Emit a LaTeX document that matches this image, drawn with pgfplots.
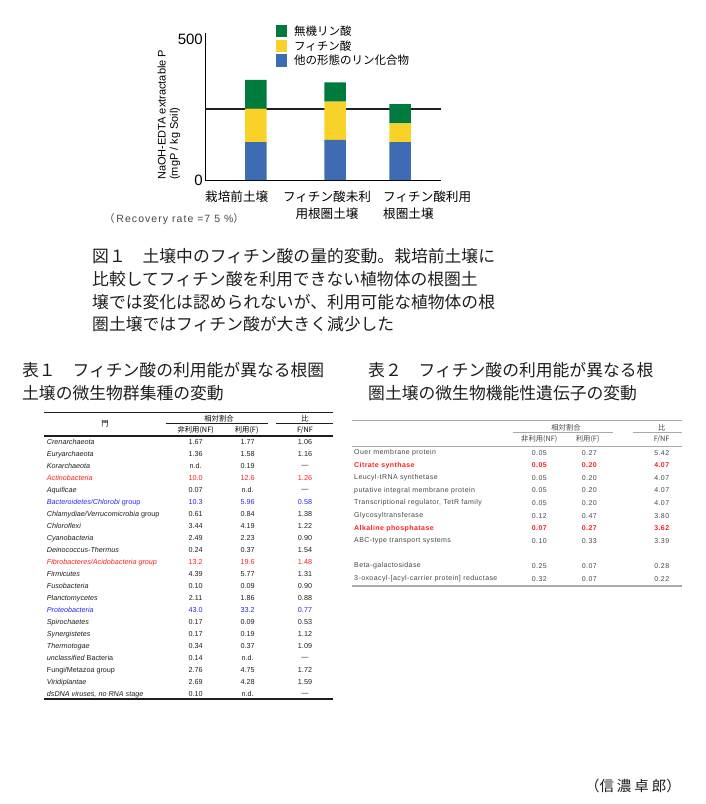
\documentclass[border=0pt]{standalone}
\usepackage{pgfplots}
\pgfplotsset{compat=1.18}
\usepackage{fontspec}
\setmainfont{Liberation Sans}
\newfontfamily\jp{Noto Sans CJK JP}
\newfontfamily\tb[LetterSpace=6]{Liberation Sans}
\newfontfamily\ls[LetterSpace=10]{Liberation Sans}
\definecolor{gP}{RGB}{0,122,61}
\definecolor{yP}{RGB}{248,210,41}
\definecolor{bP}{RGB}{61,108,178}
\definecolor{tred}{RGB}{255,30,30}
\definecolor{tblue}{RGB}{40,40,235}
\definecolor{tdark}{RGB}{30,30,30}
\definecolor{tgray}{RGB}{70,70,70}
\definecolor{rgray}{RGB}{170,170,170}
\tikzset{
 t1/.style={inner sep=0,font=\fontsize{7.2}{8}\selectfont},
 t2n/.style={inner sep=0,text=tgray,font=\tb\fontsize{7}{8}\selectfont},
 t2r/.style={inner sep=0,text=tred,font=\tb\bfseries\fontsize{7}{8}\selectfont},
}
\newcommand\tA[6]{%
 \node[t1,anchor=west,text=#6] at (46.7,#1) {#2};
 \node[t1,text=#6] at (195.7,#1) {#3};
 \node[t1,text=#6] at (247.7,#1) {#4};
 \node[t1,text=#6] at (305,#1) {#5};}
\newcommand\tB[6]{%
 \node[#6,anchor=west] at (354,#1) {#2};
 \node[#6] at (539.3,#1) {#3};
 \node[#6] at (589.3,#1) {#4};
 \node[#6] at (661.7,#1) {#5};}
\begin{document}
\begin{tikzpicture}
\begin{scope}[x=1pt,y=-1pt]
\useasboundingbox (0,0) rectangle (705,804);
% y label
\node[rotate=90,anchor=west,inner sep=0,font=\fontsize{11}{11}\selectfont] at (161.7,180) {NaOH-EDTA extractable P};
\node[rotate=90,anchor=west,inner sep=0,font=\fontsize{11}{11}\selectfont] at (175,180) {(mgP / kg Soil)};
% legend
\fill[gP] (276,25) rectangle (287,37.3);
\fill[yP] (276,40) rectangle (287,52.3);
\fill[bP] (276,54) rectangle (287,66.7);
\begin{scope}[every node/.style={anchor=west,inner sep=0,font=\jp\fontsize{11.5}{12}\selectfont}]
\node at (294,31) {無機リン酸};
\node at (294,46) {フィチン酸};
\node at (294,60.5) {他の形態のリン化合物};
\end{scope}
% category labels
\begin{scope}[every node/.style={inner sep=0,font=\jp\fontsize{12.6}{13}\selectfont}]
\node[anchor=west] at (205,196.7) {栽培前土壌};
\node at (327,196.7) {フィチン酸未利};
\node at (327,214) {用根圏土壌};
\node[anchor=west] at (383,196.7) {フィチン酸利用};
\node[anchor=west] at (383,214) {根圏土壌};
\end{scope}
\node[anchor=west,inner sep=0,text=tgray,font=\fontsize{10.5}{11}\selectfont] at (104,219) {{\jp （}\,{\ls Recovery rate =7 5 \%}{\jp ）}};
% caption
\begin{scope}[every node/.style={anchor=west,inner sep=0,text=tdark,font=\jp\fontsize{16.8}{17}\selectfont}]
\node at (92,256) {図１　土壌中のフィチン酸の量的変動。栽培前土壌に};
\node at (92,279) {比較してフィチン酸を利用できない植物体の根圏土};
\node at (92,302) {壌では変化は認められないが、利用可能な植物体の根};
\node at (92,324) {圏土壌ではフィチン酸が大きく減少した};
\node at (22,370) {表１　フィチン酸の利用能が異なる根圏};
\node at (22,393) {土壌の微生物群集種の変動};
\node at (368,370) {表２　フィチン酸の利用能が異なる根};
\node at (368,393) {圏土壌の微生物機能性遺伝子の変動};
\end{scope}
% Table 1
\draw[tdark,line width=0.8pt] (44,412.3) -- (333,412.3);
\draw[tdark,line width=0.6pt] (165.7,423.7) -- (268.3,423.7);
\draw[tdark,line width=0.6pt] (276,423.7) -- (333,423.7);
\draw[tdark,line width=1.6pt] (44,435.7) -- (333,435.7);
\draw[tdark,line width=1.6pt] (44,699) -- (333,699);
\begin{scope}[every node/.style={inner sep=0,font=\jp\fontsize{7.3}{8}\selectfont}]
\node at (105,424) {門};
\node at (219,418.3) {相対割合};
\node at (305,418.3) {比};
\node at (195.7,430.3) {非利用(NF)};
\node at (246.7,430.3) {利用(F)};
\node at (305,430.3) {F/NF};
\end{scope}
\tA{442.3}{\textit{Crenarchaeota}}{1.67}{1.77}{1.06}{tdark}
\tA{454.3}{\textit{Euryarchaeota}}{1.36}{1.58}{1.16}{tdark}
\tA{466.3}{\textit{Korarchaeota}}{n.d.}{0.19}{—}{tdark}
\tA{478.3}{\textit{Actinobacteria}}{10.0}{12.6}{1.26}{tred}
\tA{490.3}{\textit{Aquificae}}{0.07}{n.d.}{—}{tdark}
\tA{502.3}{\textit{Bacteroidetes/Chlorobi} group}{10.3}{5.96}{0.58}{tblue}
\tA{514.3}{\textit{Chlamydiae/Verrucomicrobia} group}{0.61}{0.84}{1.38}{tdark}
\tA{526.3}{\textit{Chloroflexi}}{3.44}{4.19}{1.22}{tdark}
\tA{538.3}{\textit{Cyanobacteria}}{2.49}{2.23}{0.90}{tdark}
\tA{550.3}{\textit{Deinococcus-Thermus}}{0.24}{0.37}{1.54}{tdark}
\tA{562.3}{\textit{Fibrobacteres/Acidobacteria group}}{13.2}{19.6}{1.48}{tred}
\tA{574.3}{\textit{Firmicutes}}{4.39}{5.77}{1.31}{tdark}
\tA{586.3}{\textit{Fusobacteria}}{0.10}{0.09}{0.90}{tdark}
\tA{598.3}{\textit{Planctomycetes}}{2.11}{1.86}{0.88}{tdark}
\tA{610.3}{\textit{Proteobacteria}}{43.0}{33.2}{0.77}{tblue}
\tA{622.3}{\textit{Spirochaetes}}{0.17}{0.09}{0.53}{tdark}
\tA{634.3}{\textit{Synergistetes}}{0.17}{0.19}{1.12}{tdark}
\tA{646.3}{\textit{Thermotogae}}{0.34}{0.37}{1.09}{tdark}
\tA{658.3}{\textit{unclassified} Bacteria}{0.14}{n.d.}{—}{tdark}
\tA{670.3}{Fungi/Metazoa group}{2.76}{4.75}{1.72}{tdark}
\tA{682.3}{\textit{Viridiplantae}}{2.69}{4.28}{1.59}{tdark}
\tA{694.3}{\textit{dsDNA viruses, no RNA stage}}{0.10}{n.d.}{—}{tdark}
% Table 2
\draw[rgray,line width=1.3pt] (352,420.7) -- (682,420.7);
\draw[rgray,line width=0.8pt] (513,432.7) -- (613,432.7);
\draw[rgray,line width=0.8pt] (633,432.7) -- (682,432.7);
\draw[rgray,line width=1pt] (352,446) -- (682,446);
\draw[rgray,line width=1.3pt] (352,586) -- (682,586);
\begin{scope}[every node/.style={inner sep=0,text=tgray,font=\jp\fontsize{7.3}{8}\selectfont}]
\node at (566,427.7) {相対割合};
\node at (661.7,427.7) {比};
\node at (539.3,439.3) {非利用(NF)};
\node at (587.7,439.3) {利用(F)};
\node at (661.7,439.3) {F/NF};
\end{scope}
\tB{452.7}{Ouer membrane protein}{0.05}{0.27}{5.42}{t2n}
\tB{465.3}{Citrate synthase}{0.05}{0.20}{4.07}{t2r}
\tB{477.9}{Leucyl-tRNA synthetase}{0.05}{0.20}{4.07}{t2n}
\tB{490.5}{putative integral membrane protein}{0.05}{0.20}{4.07}{t2n}
\tB{503.1}{Transcriptional regulator, TetR family}{0.05}{0.20}{4.07}{t2n}
\tB{515.7}{Glycosyltransferase}{0.12}{0.47}{3.80}{t2n}
\tB{528.3}{Alkaline phosphatase}{0.07}{0.27}{3.62}{t2r}
\tB{541}{ABC-type transport systems}{0.10}{0.33}{3.39}{t2n}
\tB{566}{Beta-galactosidase}{0.25}{0.07}{0.28}{t2n}
\tB{579}{3-oxoacyl-[acyl-carrier protein] reductase}{0.32}{0.07}{0.22}{t2n}
% author
\node[inner sep=0,text=tdark,font=\jp\fontsize{14.5}{15}\selectfont] at (633,786) {（信\hspace{3pt}濃\hspace{3pt}卓\hspace{3pt}郎）};
\end{scope}
% chart axes
\begin{axis}[
 at={(205pt,-180pt)}, anchor=south west,
 scale only axis, width=236pt, height=147.3pt,
 xmin=0, xmax=236, ymin=0, ymax=525,
 axis x line=bottom, axis y line=left,
 axis line style={-, line width=0.8pt, black},
 xtick=\empty, ytick={0,500}, major tick length=0pt,
 /pgf/number format/assume math mode=true,
 yticklabel style={font=\fontsize{15}{15}\selectfont, inner sep=2pt},
 clip=false,
]
\addplot[line width=1.6pt, color={rgb,255:red,35;green,31;blue,32}] coordinates {(0,254) (236,254)};
\end{axis}
\begin{axis}[
 at={(205pt,-180pt)}, anchor=south west,
 scale only axis, width=236pt, height=147.3pt,
 xmin=0, xmax=236, ymin=0, ymax=525,
 hide axis, ybar stacked, bar width=21.5,
]
\addplot[fill=bP, draw=none] coordinates {(50.8,135) (130,143) (195,135)};
\addplot[fill=yP, draw=none] coordinates {(50.8,119) (130,136) (195,67)};
\addplot[fill=gP, draw=none] coordinates {(50.8,103) (130,69) (195,68)};
\end{axis}
\end{tikzpicture}
\end{document}
